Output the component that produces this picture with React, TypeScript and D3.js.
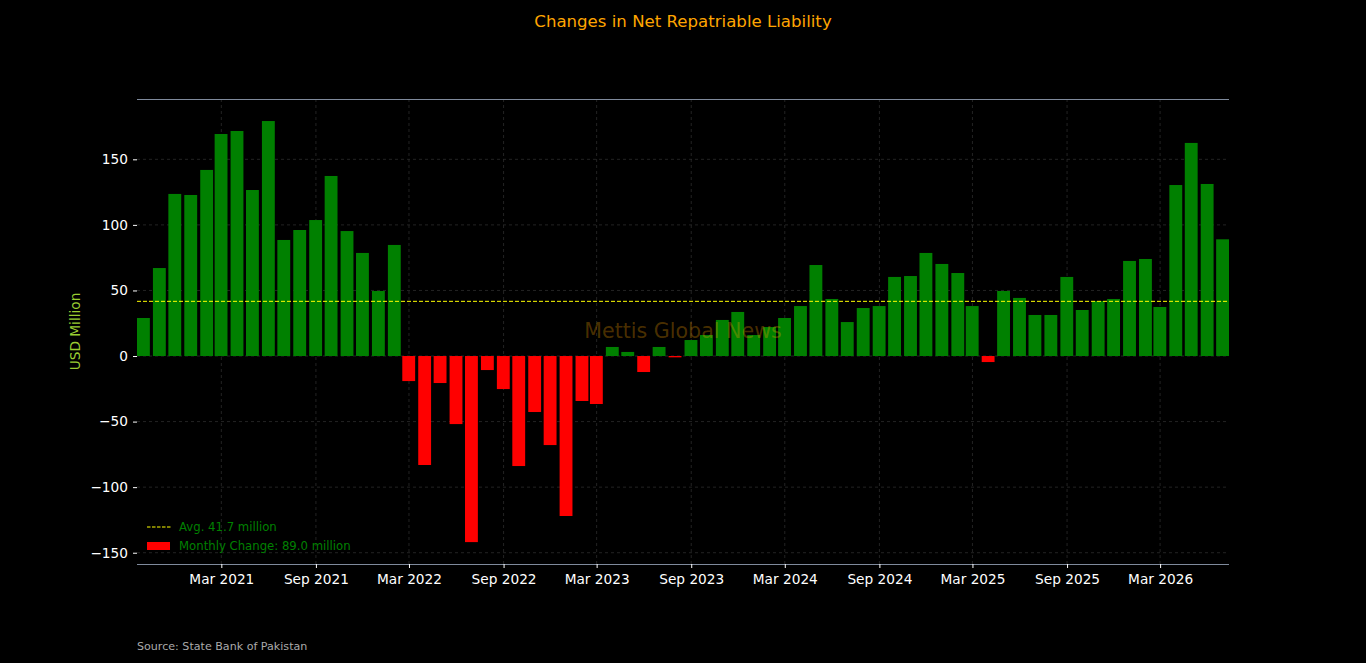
import React, { useEffect, useRef } from 'react';
import * as d3 from 'd3';

// monthly change in net repatriable liability, USD million, Oct 2020 .. Jul 2026
const firstMonth = new Date(2020, 9, 1);
const lastMonth = new Date(2026, 6, 1);
const changes = [
    29.0, 67.1, 123.6, 122.8, 141.9, 169.3, 171.6, 126.6, 179.2, 88.5,
    96.1, 103.7, 137.3, 95.3, 78.6, 49.6, 84.7, -19.1, -83.1, -20.6,
    -51.9, -141.9, -10.7, -25.2, -83.9, -42.7, -67.9, -122.0, -34.3, -36.6,
    6.9, 3.1, -12.2, 6.9, -1.0, 12.2, 16.0, 27.5, 33.6, 16.0,
    22.1, 29.0, 38.1, 69.4, 43.5, 25.9, 36.6, 38.1, 60.3, 61.0,
    78.6, 70.2, 63.3, 38.1, -4.6, 49.6, 44.3, 31.3, 31.3, 60.3,
    35.1, 41.9, 43.5, 72.5, 74.0, 37.4, 130.4, 162.5, 131.2, 89.0
];
const avgValue = 41.7;
const yTicks = [-150, -100, -50, 0, 50, 100, 150];
const xTickLabels = ['Mar 2021', 'Sep 2021', 'Mar 2022', 'Sep 2022', 'Mar 2023', 'Sep 2023',
    'Mar 2024', 'Sep 2024', 'Mar 2025', 'Sep 2025', 'Mar 2026'];

const W = 1366, H = 663;
const FONT = 'DejaVu Sans, sans-serif';

const App = () => {
    const ref = useRef<SVGSVGElement>(null);

    useEffect(() => {
        const svg = d3.select(ref.current);
        svg.selectAll('*').remove();

        const months = d3.timeMonth.range(firstMonth, d3.timeMonth.offset(lastMonth, 1));
        const data = months.map((m, i) => ({ date: m, value: changes[i] }));

        const halfBar = 12.5; // days
        const left = 137, right = 1229, top = 99, bottom = 564;

        const x = d3.scaleTime()
            .domain([d3.timeDay.offset(firstMonth, -halfBar), d3.timeDay.offset(lastMonth, halfBar)])
            .range([left, right]);
        const y = d3.scaleLinear().domain([-158.6, 196]).range([bottom, top]);

        svg.append('rect').attr('width', W).attr('height', H).attr('fill', '#000000');

        // title
        svg.append('text')
            .attr('x', 683).attr('y', 27)
            .attr('text-anchor', 'middle')
            .attr('font-family', FONT).attr('font-size', 16.6)
            .attr('fill', '#FFA500')
            .text('Changes in Net Repatriable Liability');

        const parse = d3.timeParse('%b %Y');
        const xTicks = xTickLabels.map(s => parse(s)!);

        // grid
        const grid = svg.append('g')
            .attr('stroke', '#2c2c2c').attr('stroke-width', 0.8).attr('stroke-dasharray', '3,3');
        grid.selectAll('line.gy').data(yTicks).enter().append('line')
            .attr('x1', left).attr('x2', right)
            .attr('y1', d => y(d)).attr('y2', d => y(d));
        grid.selectAll('line.gx').data(xTicks).enter().append('line')
            .attr('x1', d => x(d)).attr('x2', d => x(d))
            .attr('y1', top).attr('y2', bottom);

        // bars
        svg.append('g').selectAll('rect').data(data).enter().append('rect')
            .attr('x', d => x(d3.timeDay.offset(d.date, -halfBar)))
            .attr('width', d => x(d3.timeDay.offset(d.date, halfBar)) - x(d3.timeDay.offset(d.date, -halfBar)))
            .attr('y', d => y(Math.max(0, d.value)))
            .attr('height', d => Math.abs(y(d.value) - y(0)))
            .attr('fill', d => d.value >= 0 ? '#008000' : '#ff0000');

        // average line
        svg.append('line')
            .attr('x1', left).attr('x2', right)
            .attr('y1', y(avgValue)).attr('y2', y(avgValue))
            .attr('stroke', '#ffff00').attr('stroke-width', 1)
            .attr('stroke-dasharray', '4,2');

        // watermark
        svg.append('text')
            .attr('x', 683).attr('y', 338)
            .attr('text-anchor', 'middle')
            .attr('font-family', FONT).attr('font-size', 20.6)
            .attr('fill', '#FFA500').attr('fill-opacity', 0.3)
            .text('Mettis Global News');

        // spines
        svg.append('line').attr('x1', left).attr('x2', right).attr('y1', top + 0.5).attr('y2', top + 0.5)
            .attr('stroke', '#7f8a9c').attr('stroke-width', 1.2);
        svg.append('line').attr('x1', left).attr('x2', right).attr('y1', bottom + 0.5).attr('y2', bottom + 0.5)
            .attr('stroke', '#7f8a9c').attr('stroke-width', 1.2);

        // y axis
        const yAxis = svg.append('g')
            .attr('transform', `translate(${left},0)`)
            .call(d3.axisLeft(y).tickValues(yTicks).tickSize(4).tickPadding(5)
                .tickFormat(d => d3.format('d')(d as number).replace('-', '\u2212')));
        yAxis.select('.domain').remove();
        yAxis.selectAll('line').attr('stroke', '#ffffff');
        yAxis.selectAll('text').attr('fill', '#ffffff')
            .attr('font-family', FONT).attr('font-size', 13.7);

        // x axis
        const xAxis = svg.append('g')
            .attr('transform', `translate(0,${bottom})`)
            .call(d3.axisBottom(x).tickValues(xTicks).tickSize(4).tickPadding(6)
                .tickFormat((d, i) => xTickLabels[i]));
        xAxis.select('.domain').remove();
        xAxis.selectAll('line').attr('stroke', '#ffffff');
        xAxis.selectAll('text').attr('fill', '#ffffff')
            .attr('font-family', FONT).attr('font-size', 13.7);

        // y label
        svg.append('text')
            .attr('transform', `translate(80,${(top + bottom) / 2}) rotate(-90)`)
            .attr('text-anchor', 'middle')
            .attr('font-family', FONT).attr('font-size', 13.7)
            .attr('fill', '#9acd32')
            .text('USD Million');

        // legend
        const lg = svg.append('g').attr('font-family', FONT).attr('font-size', 11.7);
        lg.append('line').attr('x1', 147).attr('x2', 171).attr('y1', 527).attr('y2', 527)
            .attr('stroke', '#ffff00').attr('stroke-width', 1).attr('stroke-dasharray', '3.5,1.5');
        lg.append('text').attr('x', 179).attr('y', 531).attr('fill', '#008000')
            .text(`Avg. ${avgValue.toFixed(1)} million`);
        lg.append('rect').attr('x', 147).attr('y', 542).attr('width', 23).attr('height', 8)
            .attr('fill', '#ff0000');
        lg.append('text').attr('x', 179).attr('y', 550).attr('fill', '#008000')
            .text(`Monthly Change: ${changes[changes.length - 1].toFixed(1)} million`);

        // source
        svg.append('text')
            .attr('x', 137).attr('y', 650)
            .attr('font-family', FONT).attr('font-size', 11.1)
            .attr('fill', '#aaaaaa')
            .text('Source: State Bank of Pakistan');
    }, []);

    return <svg ref={ref} width={W} height={H}
        style={{ position: 'absolute', left: 0, top: 0, display: 'block' }} />;
};

export default App;
